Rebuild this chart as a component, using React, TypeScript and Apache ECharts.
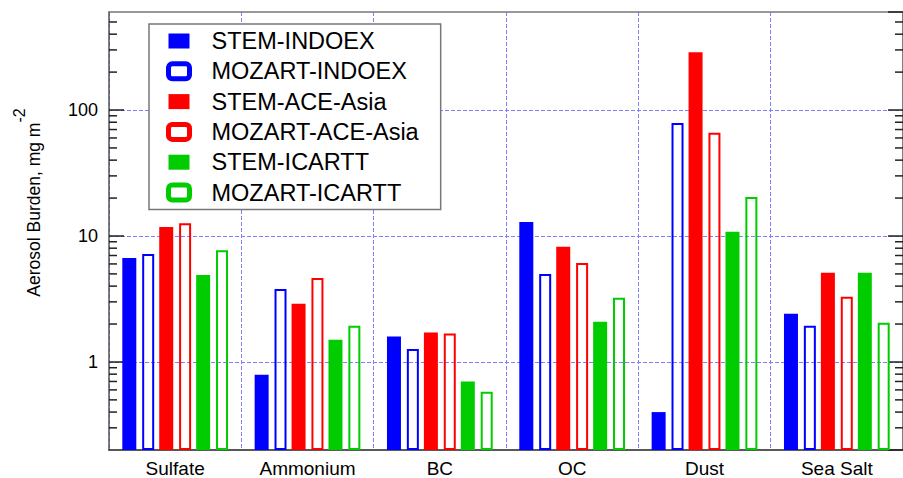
import React, { useEffect, useRef } from 'react';
import * as echarts from 'echarts';

const categories = ['Sulfate', 'Ammonium', 'BC', 'OC', 'Dust', 'Sea Salt'];
const stemIndoex = [6.7, 0.79, 1.59, 12.9, 0.4, 2.41];
const mozartIndoex = [7.2, 3.8, 1.27, 5.0, 79, 1.94];
const stemAceAsia = [11.8, 2.9, 1.71, 8.2, 288, 5.1];
const mozartAceAsia = [12.6, 4.65, 1.68, 6.1, 66, 3.3];
const stemIcartt = [4.9, 1.5, 0.7, 2.09, 10.8, 5.1];
const mozartIcartt = [7.7, 1.94, 0.58, 3.23, 20.4, 2.05];
const yTickLabels = [1, 10, 100];
const minorTickValues = [0.3, 0.4, 0.5, 0.6, 0.7, 0.8, 0.9, 2, 3, 4, 5, 6, 7, 8, 9, 20, 30, 40, 50, 60, 70, 80, 90, 200, 300, 400, 500];

const seriesDefs = [
  { name: 'STEM-INDOEX', data: stemIndoex, color: '#0000ff', filled: true },
  { name: 'MOZART-INDOEX', data: mozartIndoex, color: '#0000ff', filled: false },
  { name: 'STEM-ACE-Asia', data: stemAceAsia, color: '#ff0000', filled: true },
  { name: 'MOZART-ACE-Asia', data: mozartAceAsia, color: '#ff0000', filled: false },
  { name: 'STEM-ICARTT', data: stemIcartt, color: '#00cc00', filled: true },
  { name: 'MOZART-ICARTT', data: mozartIcartt, color: '#00cc00', filled: false },
];

const FONT = '"Liberation Sans", Arial, Helvetica, sans-serif';
const GRID_COLOR = '#8080ff';

export default function App() {
  const ref = useRef<HTMLDivElement>(null);
  useEffect(() => {
    if (!ref.current) return;
    const chart = echarts.init(ref.current, undefined, { renderer: 'svg' });

    const barSeries = seriesDefs.map((s) => ({
      type: 'bar',
      name: s.name,
      data: s.data,
      xAxisIndex: 0,
      yAxisIndex: 0,
      barWidth: s.filled ? 14 : 12,
      barGap: '42%',
      itemStyle: s.filled
        ? { color: s.color }
        : { color: 'rgba(0,0,0,0)', borderColor: s.color, borderWidth: 2 },
    }));

    const option: any = {
      animation: false,
      backgroundColor: '#ffffff',
      textStyle: { fontFamily: FONT },
      grid: { left: 109, top: 12, right: -10, bottom: 28 },
      legend: {
        orient: 'vertical',
        left: 149,
        top: 24,
        padding: [5, 22, 5, 17],
        itemGap: 6.3,
        itemWidth: 21,
        itemHeight: 15,
        borderColor: '#777777',
        borderWidth: 1.5,
        backgroundColor: '#ffffff',
        selectedMode: false,
        textStyle: { fontSize: 23.5, lineHeight: 23, color: '#000', fontFamily: FONT, padding: [0, 0, 0, 17] },
        data: seriesDefs.map((s) =>
          s.filled
            ? { name: s.name, icon: 'rect', itemStyle: { color: s.color } }
            : { name: s.name, icon: 'roundRect', itemStyle: { color: '#ffffff', borderColor: s.color, borderWidth: 5 } }
        ),
      },
      xAxis: [
        {
          type: 'category',
          data: categories,
          position: 'bottom',
          axisLine: { lineStyle: { color: '#222', width: 1.5 } },
          axisTick: { inside: true, length: 14, lineStyle: { color: '#222', width: 1.5 } },
          axisLabel: { fontSize: 19, color: '#000', margin: 9, fontFamily: FONT },
          splitLine: { show: true, lineStyle: { color: GRID_COLOR, type: [4, 2], width: 1 } },
        },
        {
          type: 'category',
          data: categories,
          position: 'top',
          axisLine: { lineStyle: { color: '#777', width: 1.5 } },
          axisTick: { inside: true, length: 14, lineStyle: { color: '#222', width: 1.5 } },
          axisLabel: { show: false },
          splitLine: { show: false },
        },
      ],
      yAxis: [
        {
          type: 'log',
          logBase: 10,
          min: 0.2,
          max: 600,
          startValue: 0.2,
          position: 'left',
          name: '{a|Aerosol Burden, mg m}{b|-2}',
          nameLocation: 'middle',
          nameRotate: 90,
          nameGap: 52,
          nameTextStyle: {
            rich: {
              a: { fontSize: 17.5, color: '#000', fontFamily: FONT, padding: [0, 0, 0, 57] },
              b: { fontSize: 16, color: '#000', fontFamily: FONT, verticalAlign: 'top', padding: [0, 0, 30, 0] },
            },
          },
          axisLine: { show: true, lineStyle: { color: '#555', width: 1.5 } },
          axisTick: { show: true, inside: true, length: 15, lineStyle: { color: '#222', width: 1.5 } },
          axisLabel: {
            fontSize: 18,
            color: '#000',
            margin: 11,
            fontFamily: FONT,
            showMinLabel: false,
            showMaxLabel: false,
            formatter: (v: number) => {
              const m = yTickLabels.find((t) => Math.abs(Math.log10(v) - Math.log10(t)) < 1e-6);
              return m !== undefined ? String(m) : '';
            },
          },
          splitLine: {
            show: true,
            showMinLine: false,
            showMaxLine: false,
            lineStyle: { color: GRID_COLOR, type: [4, 2], width: 1 },
          },
        },
        {
          type: 'log',
          logBase: 10,
          min: 0.2,
          max: 600,
          position: 'right',
          axisLine: { show: true, lineStyle: { color: '#555', width: 1.5 } },
          axisTick: { show: true, inside: true, length: 15, lineStyle: { color: '#222', width: 1.5 } },
          axisLabel: { show: false },
          splitLine: { show: false },
        },
      ],
      series: [
        ...barSeries,
        {
          type: 'custom',
          name: 'minorTicks',
          xAxisIndex: 0,
          yAxisIndex: 0,
          silent: true,
          clip: false,
          z: 10,
          data: minorTickValues.map((v) => [0, v]),
          encode: { x: 0, y: 1 },
          renderItem: (params: any, api: any) => {
            const cs = params.coordSys;
            const y = api.coord([0, api.value(1)])[1];
            return {
              type: 'group',
              children: [
                { type: 'line', shape: { x1: cs.x, y1: y, x2: cs.x + 8, y2: y }, style: { stroke: '#222', lineWidth: 1.5 } },
                { type: 'line', shape: { x1: cs.x + cs.width - 8, y1: y, x2: cs.x + cs.width, y2: y }, style: { stroke: '#222', lineWidth: 1.5 } },
              ],
            };
          },
        },
      ],
    };
    chart.setOption(option);
    return () => chart.dispose();
  }, []);
  return (
    <div
      ref={ref}
      style={{ position: 'fixed', left: 0, top: 0, width: 903, height: 478, background: '#fff' }}
    />
  );
}
